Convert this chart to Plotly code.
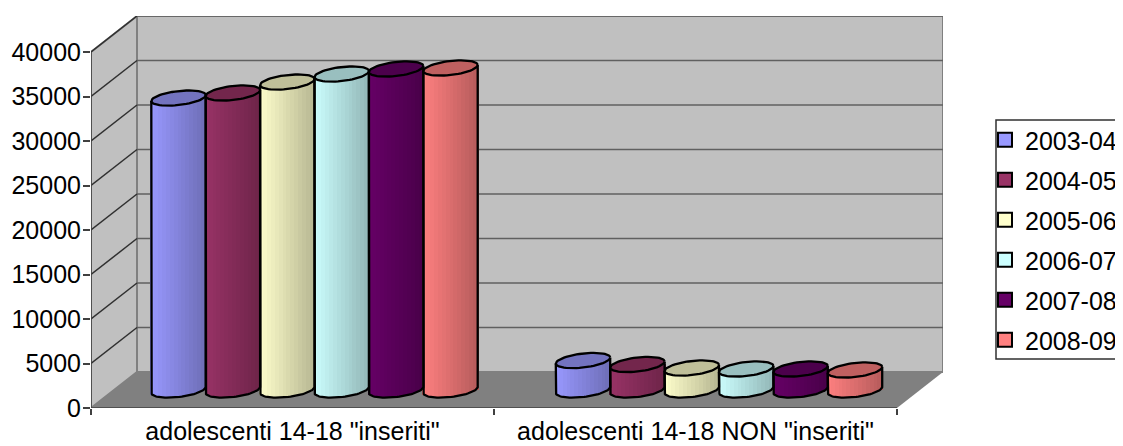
import numpy as np
import plotly.graph_objects as go

categories = ['adolescenti 14-18 "inseriti"', 'adolescenti 14-18 NON "inseriti"']
series_names = ["2003-04", "2004-05", "2005-06", "2006-07", "2007-08", "2008-09"]
inseriti = [32800, 33370, 34600, 35500, 36070, 36180]
non_inseriti = [3310, 2865, 2470, 2360, 2360, 2250]
colors = ["#9999FF", "#993366", "#FFFFCC", "#CCFFFF", "#660066", "#FF8080"]
y_ticks = [0, 5000, 10000, 15000, 20000, 25000, 30000, 35000, 40000]

# page geometry (pixels); the page body adds an 8 px margin
PAGE = 8
W, H = 1123 - PAGE, 446 - PAGE
LEFT, RIGHT, TOP, BOTTOM = 91 - PAGE, 943 - PAGE, 16 - PAGE, 408 - PAGE
BAND = 403.0
DX_PX, DY_PX = 46, 36
PY = (BOTTOM - (52 - PAGE)) / 40000.0  # px per unit of y
UX = 1 / BAND                          # x units per px
UY = 1 / PY                            # y units per px
DX, DY = DX_PX * UX, DY_PX * UY
XMIN, XMAX = -0.5, -0.5 + (RIGHT - LEFT) * UX
YMAX = (BOTTOM - TOP) * UY
XFRONT = 1.5
PW, PH = RIGHT - LEFT, BOTTOM - TOP

BAR_W = 54.4 * UX
RX = BAR_W / 2
RY_PX, SHEAR_PX = 7.0, 3.0
BASE = 18 * UY
SHIFT = 22 * UX
N_STRIPS = 14
FONT = "Liberation Sans, Arial, sans-serif"
FS = 25


def shade(hex_color, f):
    r, g, b = [int(hex_color[i:i + 2], 16) for i in (1, 3, 5)]
    return f"rgb({round(r * f)},{round(g * f)},{round(b * f)})"


def ellipse(t):
    """x and y offsets of a point on the sheared end ellipse of a cylinder."""
    return RX * np.cos(t), (RY_PX * np.sin(t) + SHEAR_PX * np.cos(t)) * UY


fig = go.Figure()
values_by_group = [inseriti, non_inseriti]
edges = np.linspace(0, 1, N_STRIPS + 1)

for s, name in enumerate(series_names):
    col = colors[s]
    for g, vals in enumerate(values_by_group):
        cx = g + SHIFT + (s - 2.5) * BAR_W + g * 1.5 * UX
        v = vals[s]
        # body drawn as vertical strips for the shaded side of the cylinder
        for k in range(N_STRIPS):
            u = (edges[k] + edges[k + 1]) / 2
            t = np.pi + np.arccos(1 - 2 * u)
            dx, dy = ellipse(t)
            fig.add_trace(go.Bar(
                x=[cx + dx], y=[v], base=[BASE + dy],
                width=[BAR_W / N_STRIPS + 1.8 * UX],
                marker=dict(color=shade(col, 1.0 - 0.28 * u), line=dict(width=0)),
                showlegend=False, hoverinfo="skip", legendgroup=name,
            ))
        # top face
        tt = np.linspace(0, 2 * np.pi, 60)
        ex, ey = ellipse(tt)
        fig.add_trace(go.Scatter(
            x=cx + ex, y=BASE + v + ey, mode="lines", fill="toself",
            fillcolor=shade(col, 0.75), line=dict(color="black", width=2.3),
            showlegend=False, hoverinfo="skip", legendgroup=name,
        ))
        # silhouette
        tb = np.linspace(np.pi, 2 * np.pi, 40)
        bx, by = ellipse(tb)
        ol_x = np.concatenate([[cx - RX], cx + bx, [cx + RX]])
        ol_y = np.concatenate([[BASE + v + ellipse(np.pi)[1]], BASE + by, [BASE + v + ellipse(0.0)[1]]])
        fig.add_trace(go.Scatter(
            x=ol_x, y=ol_y, mode="lines", line=dict(color="black", width=2.3),
            showlegend=False, hoverinfo="skip", legendgroup=name,
        ))
    fig.add_trace(go.Scatter(
        x=[None], y=[None], mode="markers", name=name, legendgroup=name,
        marker=dict(symbol="square", size=14, color=col, line=dict(color="black", width=2)),
    ))

shapes = []
WALL, FLOOR, EDGE, GRID = "#C0C0C0", "#808080", "#808080", "#606060"
# back wall, side wall, floor
shapes.append(dict(type="path", path=f"M {-0.5+DX} {DY} L {XFRONT+DX} {DY} L {XFRONT+DX} {40000+DY} L {-0.5+DX} {40000+DY} Z",
                   fillcolor=WALL, line=dict(color=EDGE, width=2), layer="below"))
shapes.append(dict(type="path", path=f"M -0.5 0 L {-0.5+DX} {DY} L {-0.5+DX} {40000+DY} L -0.5 40000 Z",
                   fillcolor=WALL, line=dict(color=EDGE, width=2), layer="below"))
shapes.append(dict(type="path", path=f"M -0.5 0 L {XFRONT} 0 L {XFRONT+DX} {DY} L {-0.5+DX} {DY} Z",
                   fillcolor=FLOOR, line=dict(width=0), layer="below"))
for yv in y_ticks[1:]:
    shapes.append(dict(type="line", x0=-0.5 + DX, x1=XFRONT + DX, y0=yv + DY, y1=yv + DY,
                       line=dict(color=GRID, width=1.5), layer="below"))
    shapes.append(dict(type="line", x0=-0.5, x1=-0.5 + DX, y0=yv, y1=yv + DY,
                       line=dict(color="#303030", width=1.5), layer="below"))
shapes.append(dict(type="line", x0=-0.5, x1=-0.5, y0=0, y1=40000, line=dict(color="#404040", width=1.5), layer="below"))
shapes.append(dict(type="line", x0=-0.5, x1=XFRONT, y0=0, y1=0, line=dict(color="#404040", width=1.5), layer="below"))
# legend frame, running off the right edge of the picture
shapes.append(dict(type="rect", xref="paper", yref="paper",
                   x0=(996 - 91) / PW, x1=(1140 - 91) / PW,
                   y0=(408 - 359) / PH, y1=(408 - 120) / PH,
                   fillcolor="white", line=dict(color="#303030", width=1.5), layer="below"))

fig.update_layout(
    width=W, height=H,
    margin=dict(l=LEFT, r=W - RIGHT, t=TOP, b=H - BOTTOM, pad=0, autoexpand=False),
    paper_bgcolor="white", plot_bgcolor="rgba(0,0,0,0)",
    barmode="overlay", bargap=0,
    shapes=shapes,
    font=dict(family=FONT, size=FS, color="black"),
    legend=dict(
        x=(985 - 91) / PW, y=(408 - 117) / PH,
        xanchor="left", yanchor="top",
        bgcolor="rgba(0,0,0,0)", borderwidth=0,
        tracegroupgap=4.5, font=dict(size=FS), itemsizing="trace",
    ),
    xaxis=dict(
        range=[XMIN, XMAX], tickmode="array", tickvals=[0, 1], ticktext=categories,
        showgrid=False, zeroline=False, showline=False,
        ticks="outside", ticklen=1, tickcolor="rgba(0,0,0,0)",
        tickfont=dict(size=FS),
        minor=dict(tickmode="array", tickvals=[-0.5, 0.5, 1.5], ticks="outside", ticklen=6,
                   tickcolor="#404040", tickwidth=1.5, showgrid=False),
    ),
    yaxis=dict(
        range=[0, YMAX], tickmode="array", tickvals=y_ticks, tickformat="d",
        showgrid=False, zeroline=False, showline=False,
        ticks="outside", ticklen=7, tickcolor="#404040", tickwidth=1.5,
        ticklabelstandoff=-3,
        tickfont=dict(size=FS),
    ),
)
fig.write_html("out.html")
